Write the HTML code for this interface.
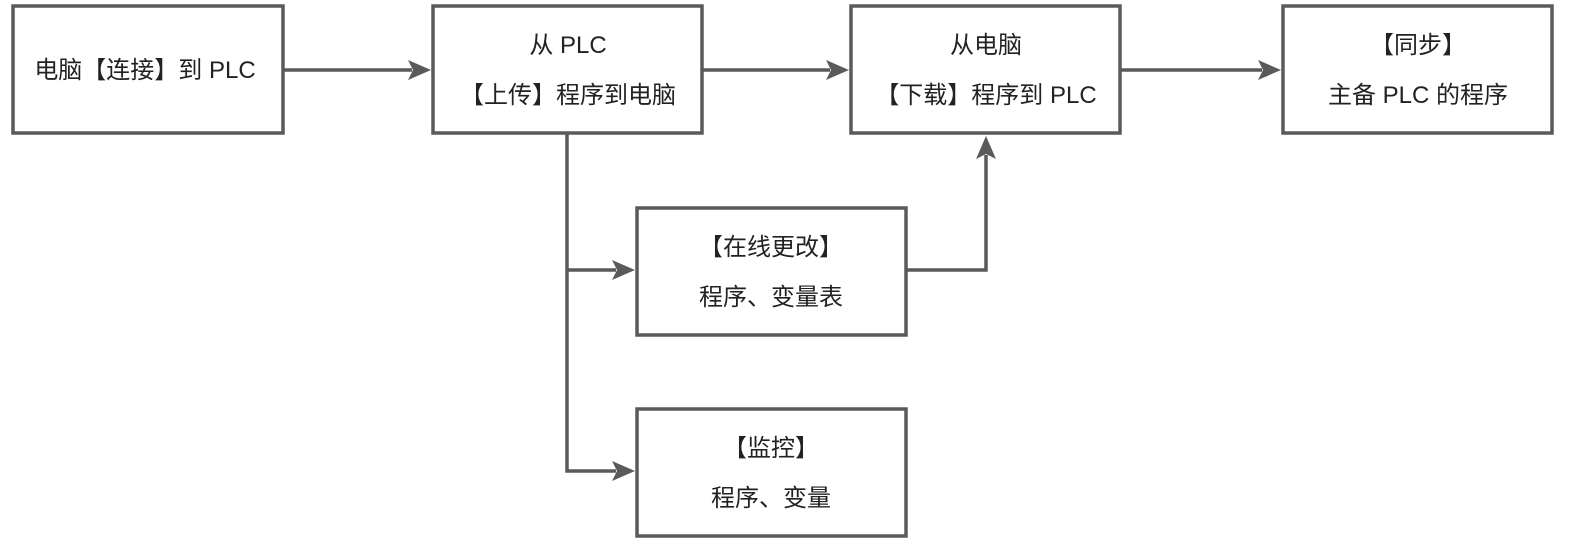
<!DOCTYPE html>
<html><head><meta charset="utf-8"><style>
body{margin:0;background:#fff;width:1574px;height:544px;overflow:hidden}
svg text{font-family:"Liberation Sans","Noto Sans CJK SC",sans-serif;font-size:24px;fill:#222;text-anchor:middle}
</style></head><body>
<svg width="1574" height="544" viewBox="0 0 1574 544">
<defs><marker id="a" markerWidth="8" markerHeight="8" refX="7" refY="4" orient="auto" markerUnits="userSpaceOnUse" viewBox="0 0 8 8"></marker></defs>
<g fill="none" stroke="#5a5a5a" stroke-width="3.5">
<rect x="13" y="6" width="270" height="127"/>
<rect x="433" y="6" width="269" height="127"/>
<rect x="851" y="6" width="269" height="127"/>
<rect x="1283" y="6" width="269" height="127"/>
<rect x="637" y="208" width="269" height="127"/>
<rect x="637" y="409" width="269" height="127"/>
<path d="M283 70H412M702 70H830M1120 70H1262M567 133V471H616M567 270H616M906 270H986V155"/>
</g>
<g fill="#5a5a5a">
<path d="M431 70L408 60L413 70L408 80Z"/>
<path d="M849 70L826 60L831 70L826 80Z"/>
<path d="M1281 70L1258 60L1263 70L1258 80Z"/>
<path d="M635 270L612 260L617 270L612 280Z"/>
<path d="M635 471L612 461L617 471L612 481Z"/>
<path d="M986 136L976 159L986 154L996 159Z"/>
</g>
<text x="145" y="78">电脑【连接】到 PLC</text>
<text x="568" y="53">从 PLC</text>
<text x="568" y="103">【上传】程序到电脑</text>
<text x="986" y="53">从电脑</text>
<text x="986" y="103">【下载】程序到 PLC</text>
<text x="1418" y="53">【同步】</text>
<text x="1418" y="103">主备 PLC 的程序</text>
<text x="771" y="255">【在线更改】</text>
<text x="771" y="305">程序、变量表</text>
<text x="771" y="456">【监控】</text>
<text x="771" y="506">程序、变量</text>
</svg>
</body></html>
